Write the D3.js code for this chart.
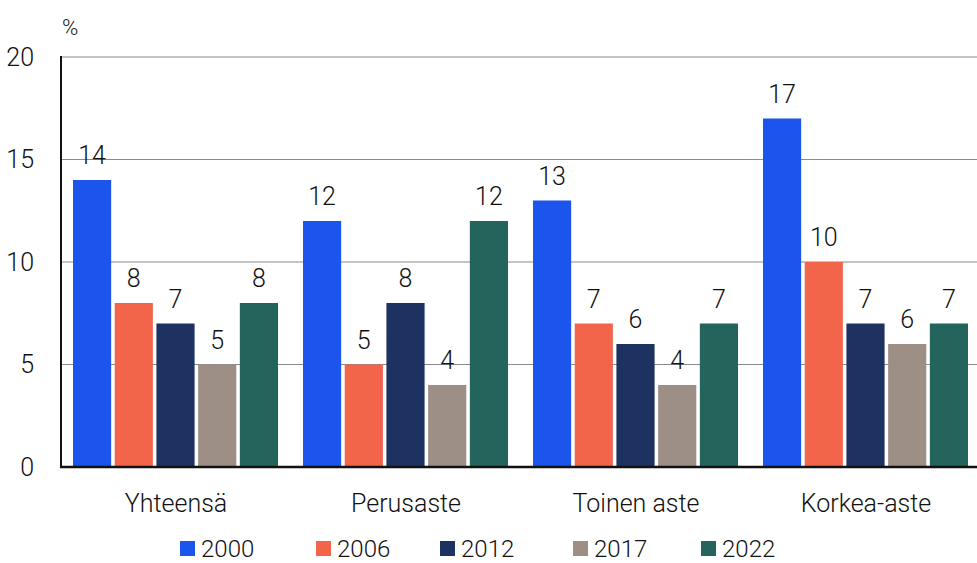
<!DOCTYPE html>
<html>
<head>
<meta charset="utf-8">
<script src="https://cdn.jsdelivr.net/npm/d3@7"></script>
<style>
  html, body { margin: 0; padding: 0; background: #fff; }
  svg { display: block; font-family: "Roboto", "Liberation Sans", sans-serif; font-weight: 300; }
</style>
</head>
<body>
<svg id="chart" width="977" height="563"></svg>
<script>
// Education levels and survey years
const categories = ["Yhteensä", "Perusaste", "Toinen aste", "Korkea-aste"];
const years = ["2000", "2006", "2012", "2017", "2022"];

// Share (%) per year, one value per education level
const v2000 = [14, 12, 13, 17];
const v2006 = [8, 5, 7, 10];
const v2012 = [7, 8, 6, 7];
const v2017 = [5, 4, 4, 6];
const v2022 = [8, 12, 7, 7];

const yTicks = [0, 5, 10, 15, 20];
const colors = ["#1b55eb", "#f2654b", "#1d3260", "#9d8f86", "#23645c"];

const seriesValues = [v2000, v2006, v2012, v2017, v2022];

const svg = d3.select("#chart");
const plotLeft = 61, plotTop = 57, plotBottom = 467, plotRight = 981;
const fontSize = 25;

const x0 = d3.scaleBand().domain(categories).range([plotLeft, plotRight]).padding(0);
const x1 = d3.scaleBand().domain(years)
  .range([12, x0.bandwidth() - 13]).paddingInner(0.085);
const y = d3.scaleLinear().domain([0, 20]).range([plotBottom, plotTop]);

// Gridlines
svg.append("g")
  .selectAll("line")
  .data(yTicks.filter(t => t > 0))
  .join("line")
  .attr("x1", plotLeft).attr("x2", 977)
  .attr("y1", d => y(d)).attr("y2", d => y(d))
  .attr("stroke", "#8a8a8a").attr("stroke-width", 1.2);

// Y axis tick labels
const yAxis = d3.axisLeft(y).tickValues(yTicks).tickSize(0).tickPadding(0);
const yg = svg.append("g").attr("transform", `translate(34,0)`).call(yAxis);
yg.select(".domain").remove();
yg.selectAll("text")
  .attr("font-size", fontSize).attr("fill", "#111")
  .attr("font-family", "Roboto, sans-serif").attr("font-weight", 300);

// Unit label
svg.append("text").attr("x", 62).attr("y", 35)
  .attr("font-size", 22).attr("fill", "#111").text("%");

// Bars
const rows = categories.map((c, i) => ({
  cat: c,
  vals: years.map((yr, j) => ({ year: yr, value: seriesValues[j][i], color: colors[j] }))
}));

const groups = svg.append("g").selectAll("g")
  .data(rows).join("g")
  .attr("transform", d => `translate(${x0(d.cat)},0)`);

groups.selectAll("rect")
  .data(d => d.vals).join("rect")
  .attr("x", d => x1(d.year))
  .attr("width", x1.bandwidth())
  .attr("y", d => y(d.value))
  .attr("height", d => y(0) - y(d.value))
  .attr("fill", d => d.color);

groups.selectAll("text")
  .data(d => d.vals).join("text")
  .attr("x", d => x1(d.year) + x1.bandwidth() / 2)
  .attr("y", d => y(d.value) - 16)
  .attr("text-anchor", "middle")
  .attr("font-size", fontSize).attr("fill", "#111")
  .text(d => d.value);

// Axis lines
svg.append("line").attr("x1", plotLeft).attr("x2", plotLeft)
  .attr("y1", plotTop - 1).attr("y2", plotBottom + 1)
  .attr("stroke", "#111").attr("stroke-width", 2);
svg.append("line").attr("x1", plotLeft - 1).attr("x2", 977)
  .attr("y1", plotBottom).attr("y2", plotBottom)
  .attr("stroke", "#111").attr("stroke-width", 2.5);

// Category labels
const xAxis = d3.axisBottom(x0).tickSize(0).tickPadding(0);
const xg = svg.append("g").attr("transform", `translate(0,${plotBottom})`).call(xAxis);
xg.select(".domain").remove();
xg.selectAll("text")
  .attr("dy", 0).attr("y", 45)
  .attr("font-size", fontSize).attr("fill", "#111")
  .attr("font-family", "Roboto, sans-serif").attr("font-weight", 300);

// Legend
const legendX = [180, 316, 440, 573, 701];
const legend = svg.append("g").selectAll("g")
  .data(years).join("g")
  .attr("transform", (d, i) => `translate(${legendX[i]},541)`);
legend.append("rect").attr("width", 15).attr("height", 15)
  .attr("fill", (d, i) => colors[i]);
legend.append("text").attr("x", 21).attr("y", 16)
  .attr("font-size", 24).attr("fill", "#111").text(d => d);
</script>
</body>
</html>
